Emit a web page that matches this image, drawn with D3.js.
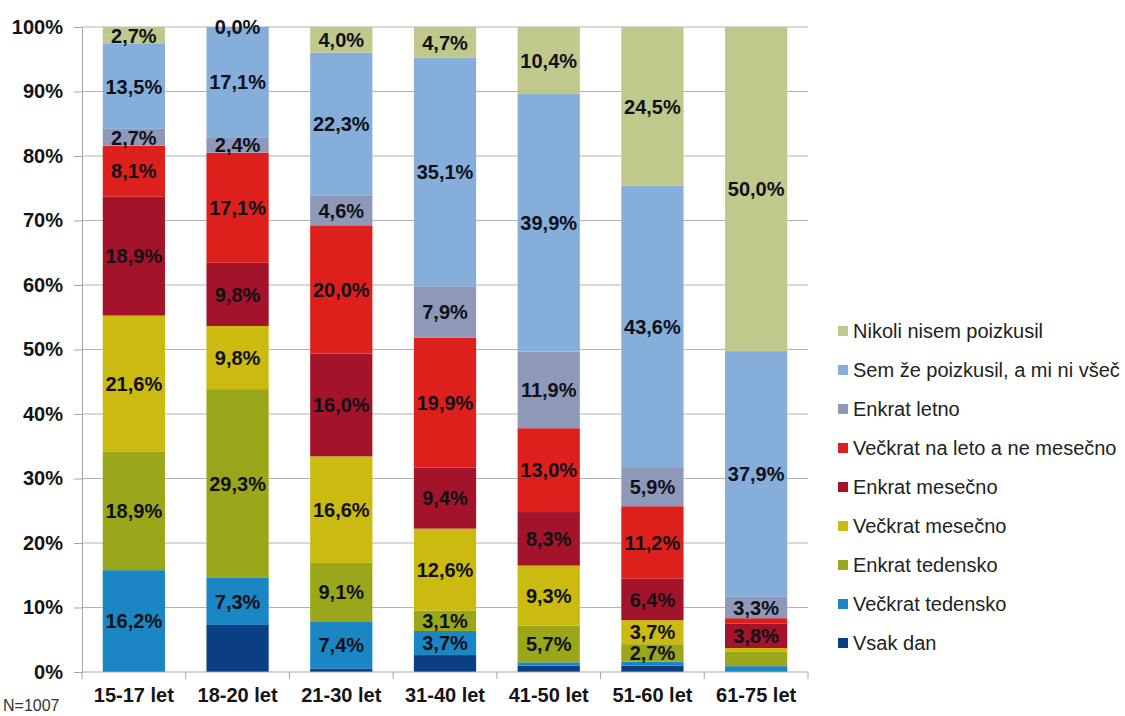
<!DOCTYPE html>
<html>
<head>
<meta charset="utf-8">
<script src="https://cdn.jsdelivr.net/npm/d3@7/dist/d3.min.js"></script>
<style>
  html, body { margin: 0; padding: 0; background: #fff; }
  svg { display: block; font-family: "Liberation Sans", Arial, sans-serif; }
</style>
</head>
<body>
<svg id="chart" width="1125" height="716"></svg>
<script>
// Age groups (x axis)
const categories = ["15-17 let", "18-20 let", "21-30 let", "31-40 let", "41-50 let", "51-60 let", "61-75 let"];

// Answer shares per age group, in percent (bottom of the stack first)
const vsakDan          = [0.0, 7.3, 0.5, 2.6, 1.0, 1.0, 0.0];
const veckratTedensko  = [16.2, 7.3, 7.4, 3.7, 0.5, 0.6, 0.9];
const enkratTedensko   = [18.9, 29.3, 9.1, 3.1, 5.7, 2.7, 2.2];
const veckratMesecno   = [21.6, 9.8, 16.6, 12.6, 9.3, 3.7, 0.6];
const enkratMesecno    = [18.9, 9.8, 16.0, 9.4, 8.3, 6.4, 3.8];
const veckratNaLeto    = [8.1, 17.1, 20.0, 19.9, 13.0, 11.2, 0.8];
const enkratLetno      = [2.7, 2.4, 4.6, 7.9, 11.9, 5.9, 3.3];
const semZePoizkusil   = [13.5, 17.1, 22.3, 35.1, 39.9, 43.6, 37.9];
const nikoliNisem      = [2.7, 0.0, 4.0, 4.7, 10.4, 24.5, 50.0];

const seriesNames = [
  "Vsak dan",
  "Večkrat tedensko",
  "Enkrat tedensko",
  "Večkrat mesečno",
  "Enkrat mesečno",
  "Večkrat na leto a ne mesečno",
  "Enkrat letno",
  "Sem že poizkusil, a mi ni všeč",
  "Nikoli nisem poizkusil"
];
const seriesValues = [vsakDan, veckratTedensko, enkratTedensko, veckratMesecno,
  enkratMesecno, veckratNaLeto, enkratLetno, semZePoizkusil, nikoliNisem];
const seriesColors = ["#0b3f83", "#1a87c4", "#9aa71a", "#cbbb10", "#a3142a",
  "#de201d", "#8e99b9", "#85aedb", "#bfc98c"];

const yTicks = [0, 0.1, 0.2, 0.3, 0.4, 0.5, 0.6, 0.7, 0.8, 0.9, 1.0];
const sampleNote = "N=1007";

// Rows for the stack layout
const rows = categories.map((c, i) => {
  const r = { category: c };
  seriesNames.forEach((s, k) => { r[s] = seriesValues[k][i]; });
  return r;
});

const svg = d3.select("#chart");
const plotLeft = 82, plotRight = 808, plotTop = 27, plotBottom = 672;

const x = d3.scaleBand().domain(categories).range([plotLeft, plotRight])
  .paddingInner(0.4).paddingOuter(0.2);
const y = d3.scaleLinear().domain([0, 1]).range([plotBottom, plotTop]);
const color = d3.scaleOrdinal().domain(seriesNames).range(seriesColors);

// Each bar is normalised to 100%
const stacked = d3.stack().keys(seriesNames).offset(d3.stackOffsetExpand)(rows);

// Gridlines
svg.append("g")
  .selectAll("line")
  .data(yTicks.slice(1))
  .join("line")
  .attr("x1", plotLeft).attr("x2", plotRight)
  .attr("y1", d => y(d)).attr("y2", d => y(d))
  .attr("stroke", "#b3b3b3").attr("stroke-width", 1);

// Y axis
const yAxis = svg.append("g")
  .attr("transform", `translate(${plotLeft},0)`)
  .call(d3.axisLeft(y).tickValues(yTicks).tickFormat(d3.format(".0%")).tickSize(8).tickPadding(11));
yAxis.select(".domain").attr("stroke", "#a6a6a6");
yAxis.selectAll(".tick line").attr("stroke", "#a6a6a6");
yAxis.selectAll(".tick text")
  .attr("font-size", 20).attr("font-weight", "bold").attr("fill", "#141414")
  .attr("font-family", "Liberation Sans, Arial, sans-serif");

// Bars
const layer = svg.append("g").selectAll("g")
  .data(stacked)
  .join("g")
  .attr("fill", d => color(d.key));

layer.selectAll("rect")
  .data(d => d.map(p => ({ p, key: d.key })))
  .join("rect")
  .attr("x", d => x(d.p.data.category))
  .attr("width", x.bandwidth())
  .attr("y", d => y(d.p[1]))
  .attr("height", d => Math.max(0, y(d.p[0]) - y(d.p[1])));

// X axis with separators between groups
const xAxisG = svg.append("g").attr("transform", `translate(0,${plotBottom})`);
xAxisG.append("line").attr("x1", plotLeft).attr("x2", plotRight)
  .attr("stroke", "#a6a6a6");
xAxisG.selectAll("line.sep")
  .data(d3.range(categories.length + 1))
  .join("line")
  .attr("class", "sep")
  .attr("x1", i => plotLeft + i * x.step()).attr("x2", i => plotLeft + i * x.step())
  .attr("y1", 0).attr("y2", 7)
  .attr("stroke", "#a6a6a6");
xAxisG.selectAll("text")
  .data(categories)
  .join("text")
  .attr("x", d => x(d) + x.bandwidth() / 2)
  .attr("y", 30)
  .attr("text-anchor", "middle")
  .attr("font-size", 20).attr("font-weight", "bold").attr("fill", "#141414")
  .text(d => d);

// Value labels in the segment centres
const fmt = v => d3.format(".1f")(v).replace(".", ",") + "%";
const labelled = (key, v) => key !== "Vsak dan" && (v >= 2.3 || v === 0);
const labelData = stacked
  .flatMap(s => s.map(p => ({ key: s.key, p, v: p.data[s.key] })))
  .filter(d => labelled(d.key, d.v));
svg.append("g").selectAll("text")
  .data(labelData)
  .join("text")
  .attr("x", d => x(d.p.data.category) + x.bandwidth() / 2)
  .attr("y", d => y((d.p[0] + d.p[1]) / 2))
  .attr("dy", "0.36em")
  .attr("text-anchor", "middle")
  .attr("font-size", 20).attr("font-weight", "bold").attr("fill", "#101018")
  .text(d => fmt(d.v));

// Legend, top entry = top of the stack
const legendItems = seriesNames.slice().reverse();
const legend = svg.append("g").selectAll("g")
  .data(legendItems)
  .join("g")
  .attr("transform", (d, i) => `translate(838,${331 + i * 39})`);
legend.append("rect")
  .attr("x", 0).attr("y", -5).attr("width", 10).attr("height", 10)
  .attr("fill", d => color(d));
legend.append("text")
  .attr("x", 15).attr("y", 0).attr("dy", "0.36em")
  .attr("font-size", 20).attr("fill", "#222")
  .text(d => d);

// Sample size note
svg.append("text")
  .attr("x", 3).attr("y", 711)
  .attr("font-size", 16).attr("fill", "#333")
  .text(sampleNote);
</script>
</body>
</html>
